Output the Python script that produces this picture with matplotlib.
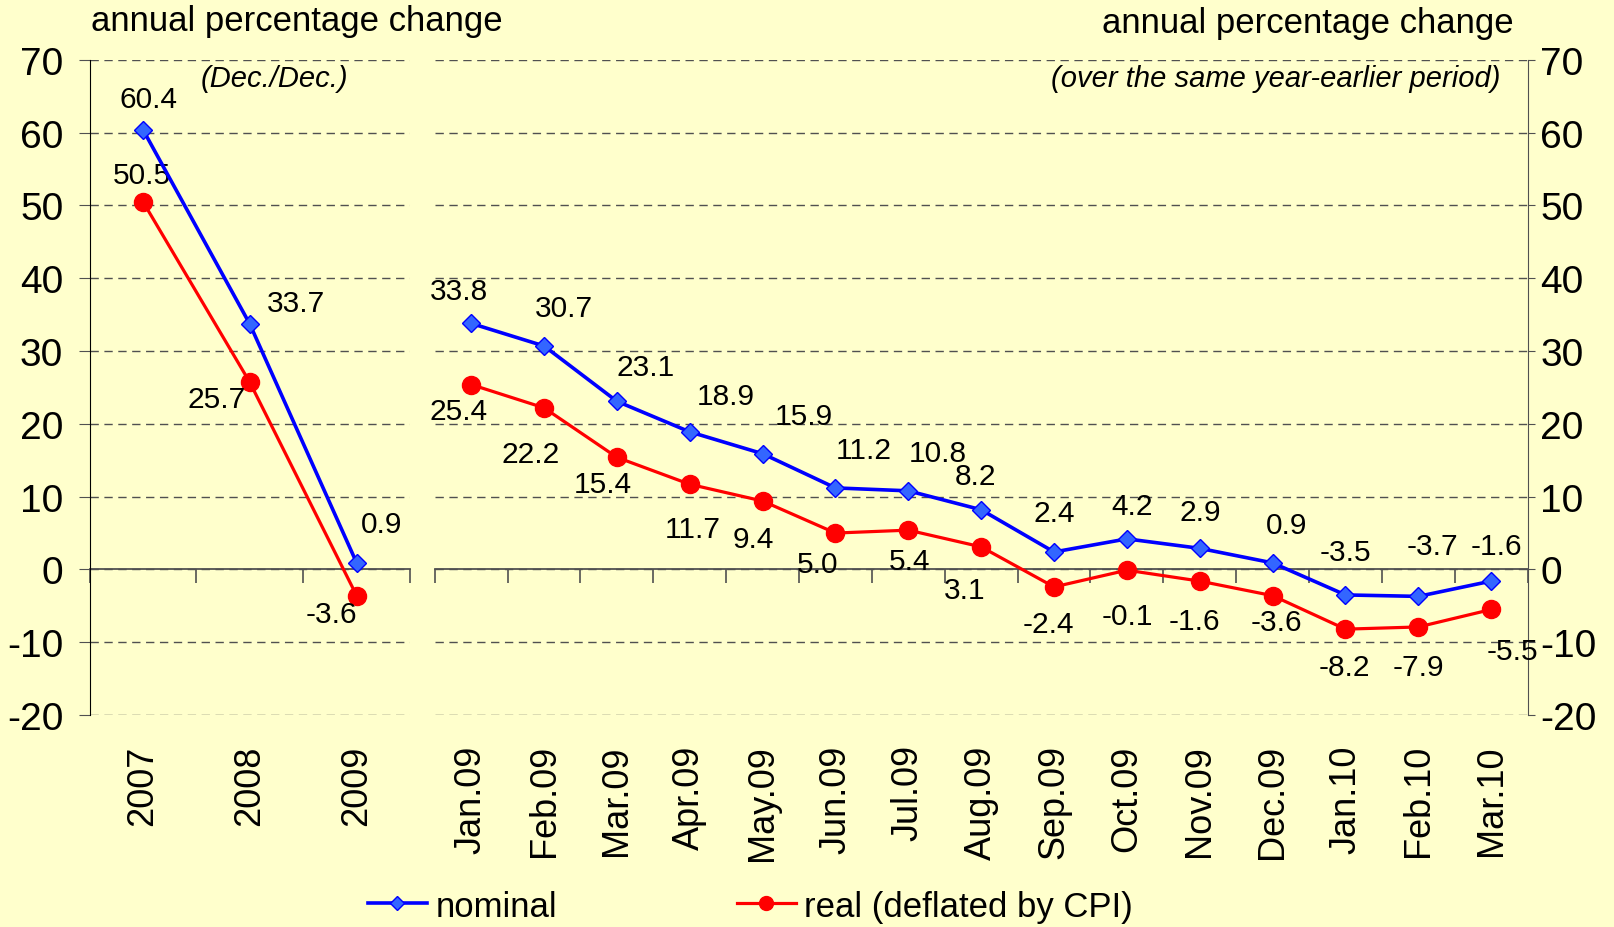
import matplotlib
matplotlib.use("Agg")
import matplotlib.pyplot as plt
from matplotlib.lines import Line2D

plt.rcParams['font.family'] = ['Liberation Sans', 'DejaVu Sans']
plt.rcParams['axes.unicode_minus'] = False

# annual data (Dec./Dec.)
years = ['2007', '2008', '2009']
nominal_year = [60.4, 33.7, 0.9]
real_year = [50.5, 25.7, -3.6]

# monthly data (over the same year-earlier period)
months = ['Jan.09', 'Feb.09', 'Mar.09', 'Apr.09', 'May.09', 'Jun.09', 'Jul.09', 'Aug.09',
          'Sep.09', 'Oct.09', 'Nov.09', 'Dec.09', 'Jan.10', 'Feb.10', 'Mar.10']
nominal_month = [33.8, 30.7, 23.1, 18.9, 15.9, 11.2, 10.8, 8.2, 2.4, 4.2, 2.9, 0.9, -3.5, -3.7, -1.6]
real_month = [25.4, 22.2, 15.4, 11.7, 9.4, 5.0, 5.4, 3.1, -2.4, -0.1, -1.6, -3.6, -8.2, -7.9, -5.5]

# label offsets in points (dx, dy)
off_nom_year = [(4, 22), (33, 15), (18, 28)]
off_real_year = [(-1, 19), (-24, -12), (-18, -13)]
off_nom_month = [(-9, 23), (14, 27), (21, 25), (26, 26), (30, 27), (20, 27), (21, 27), (-4, 24),
                 (0, 28), (4, 24), (0, 26), (10, 27), (0, 31), (10, 36), (4, 25)]
off_real_month = [(-9, -19), (-10, -33), (-10, -19), (2, -32), (-7, -27), (-13, -22), (1, -22),
                  (-12, -31), (-4, -27), (0, -33), (-4, -29), (3, -19), (-1, -27), (0, -29), (15, -30)]

bg = '#FFFFCC'
blue = '#0000FF'
blue_fill = '#3366FF'
red = '#FF0000'
grid_col = '#505050'
ymin, ymax = -20, 70

fig = plt.figure(figsize=(16.15, 9.28), dpi=100, facecolor=bg)
ax1 = fig.add_axes([0.0555, 0.2284, 0.1984, 0.706])
ax2 = fig.add_axes([0.2692, 0.2284, 0.6767, 0.706])


def draw(ax, cats, nom, real, off_nom, off_real, side):
    ax.set_facecolor('none')
    x = list(range(len(cats)))
    ax.plot(x, nom, color=blue, lw=2.6, marker='D', ms=9.5, mfc=blue_fill, mec=blue, mew=1, zorder=4)
    ax.plot(x, real, color=red, lw=2.3, marker='o', ms=13, mfc=red, mec=red, zorder=3)
    for i in x:
        ax.annotate(f'{nom[i]:.1f}', (i, nom[i]), xytext=off_nom[i], textcoords='offset points',
                    ha='center', va='center', fontsize=21.5)
        ax.annotate(f'{real[i]:.1f}', (i, real[i]), xytext=off_real[i], textcoords='offset points',
                    ha='center', va='center', fontsize=21.5)
    ax.set_xlim(-0.5, len(cats) - 0.5)
    ax.set_ylim(ymin, ymax)
    ax.set_yticks(range(ymin, ymax + 1, 10))
    ax.yaxis.grid(True, ls=(0, (6, 4)), color=grid_col, lw=1)
    ax.set_axisbelow(True)
    ax.set_xticks(x)
    ax.set_xticklabels(cats, rotation=90, fontsize=26)
    ax.tick_params(axis='x', length=0, pad=21)
    for s in ['top', 'bottom', 'left', 'right']:
        ax.spines[s].set_visible(False)
    if side == 'left':
        ax.spines['left'].set_visible(True)
        ax.spines['left'].set_color('black')
        ax.tick_params(axis='y', labelsize=28, length=8, pad=11, color=grid_col)
    else:
        ax.yaxis.tick_right()
        ax.spines['right'].set_visible(True)
        ax.spines['right'].set_color(grid_col)
        ax.tick_params(axis='y', labelsize=28, length=5, pad=4, color=grid_col)
    # zero line with category boundary ticks
    zero = (0 - ymin) / (ymax - ymin)
    sec = ax.secondary_xaxis(zero)
    sec.set_xticks([i - 0.5 for i in range(len(cats) + 1)])
    sec.tick_params(direction='out', length=10, labelbottom=False, labeltop=False, color=grid_col, width=1.2)
    sec.spines['bottom'].set_color(grid_col)
    sec.spines['bottom'].set_linewidth(1.3)


draw(ax1, years, nominal_year, real_year, off_nom_year, off_real_year, 'left')
draw(ax2, months, nominal_month, real_month, off_nom_month, off_real_month, 'right')

fig.text(0.0563, 0.977, 'annual percentage change', fontsize=25, ha='left', va='center')
fig.text(0.9375, 0.975, 'annual percentage change', fontsize=25, ha='right', va='center')
fig.text(0.1245, 0.915, '(Dec./Dec.)', fontsize=21, style='italic', ha='left', va='center')
fig.text(0.9294, 0.915, '(over the same year-earlier period)', fontsize=21, style='italic',
         ha='right', va='center')

handles = [Line2D([], [], color=blue, lw=2.6, marker='D', ms=7.5, mfc=blue_fill, mec=blue),
           Line2D([], [], color=red, lw=2.3, marker='o', ms=10, mfc=red, mec=red)]
fig.legend(handles, ['nominal', 'real (deflated by CPI)'], loc='center', bbox_to_anchor=(0.4646, 0.0226),
           ncol=2, frameon=False, fontsize=25, handlelength=1.7, handletextpad=0.25, columnspacing=5.17)

fig.savefig('out.png', dpi=100, facecolor=bg)
